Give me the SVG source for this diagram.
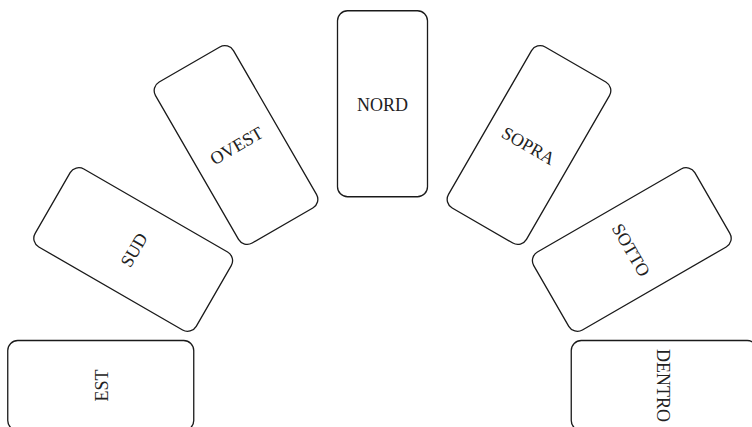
<svg xmlns="http://www.w3.org/2000/svg" width="752" height="427" viewBox="0 0 752 427">
<style>
.card{fill:#fff;stroke:#1a1a1a;stroke-width:1.3}
.lbl{font-family:"Liberation Serif","Times New Roman",serif;font-size:18px;fill:#222;text-anchor:middle}
</style>
<rect width="752" height="427" fill="#fff"/>
<g id="connectors"/>
<g id="est" transform="translate(100.75,385.5) rotate(-90)"><rect class="card" x="-45" y="-93" width="90" height="186" rx="10"/><text class="lbl" x="0" y="7">EST</text></g>
<g id="sud" transform="translate(133.2,249.5) rotate(-60)"><rect class="card" x="-45" y="-93" width="90" height="186" rx="10"/><text class="lbl" x="0" y="7">SUD</text></g>
<g id="ovest" transform="translate(236,145) rotate(-30)"><rect class="card" x="-45" y="-93" width="90" height="186" rx="10"/><text class="lbl" x="0" y="7">OVEST</text></g>
<g id="nord" transform="translate(382.5,103.75)"><rect class="card" x="-45" y="-93" width="90" height="186" rx="10"/><text class="lbl" x="0" y="7">NORD</text></g>
<g id="sopra" transform="translate(529,145) rotate(30)"><rect class="card" x="-45" y="-93" width="90" height="186" rx="10"/><text class="lbl" x="0" y="7">SOPRA</text></g>
<g id="sotto" transform="translate(631.8,249.5) rotate(60)"><rect class="card" x="-45" y="-93" width="90" height="186" rx="10"/><text class="lbl" x="0" y="7">SOTTO</text></g>
<g id="dentro" transform="translate(664.25,385.5) rotate(90)"><rect class="card" x="-45" y="-93" width="90" height="186" rx="10"/><text class="lbl" x="0" y="7">DENTRO</text></g>
</svg>
